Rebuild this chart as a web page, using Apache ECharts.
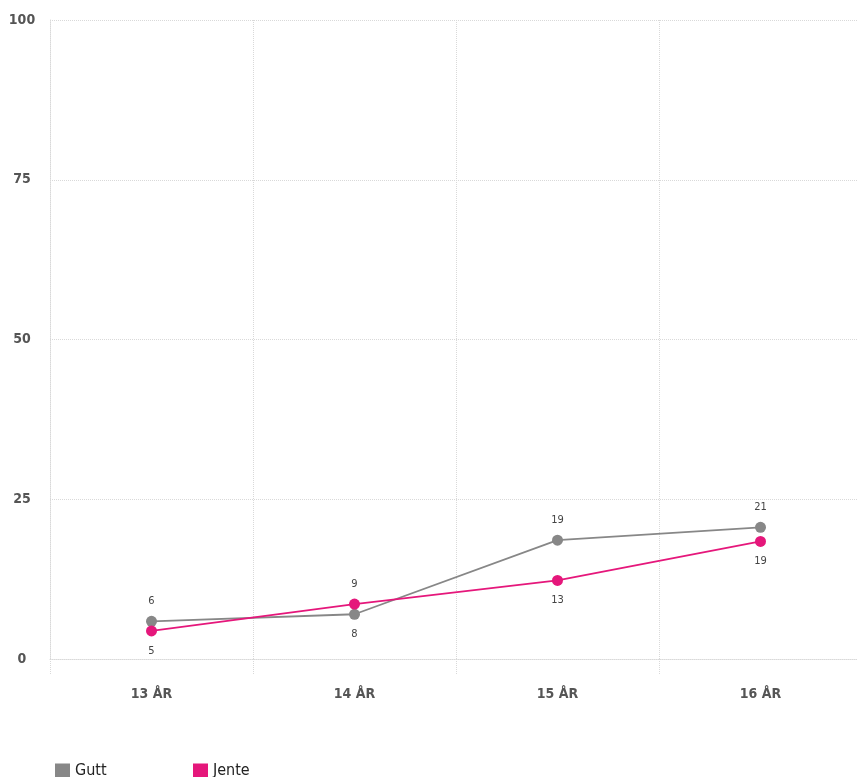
<!DOCTYPE html>
<html><head><meta charset="utf-8">
<script src="https://cdn.jsdelivr.net/npm/echarts@6/dist/echarts.min.js"></script>
<style>html,body{margin:0;padding:0;background:#fff}#c{width:857px;height:777px}</style>
</head><body><div id="c"></div>
<script>
const categories = ['13 ÅR', '14 ÅR', '15 ÅR', '16 ÅR'];
const gutt = [5.9, 7.0, 18.6, 20.6];
const guttLabels = ['6', '8', '19', '21'];
const guttLabelPos = ['top', 'bottom', 'top', 'top'];
const jente = [4.4, 8.6, 12.3, 18.4];
const jenteLabels = ['5', '9', '13', '19'];
const jenteLabelPos = ['bottom', 'top', 'bottom', 'bottom'];
const yTicks = [0, 25, 50, 75, 100];

const FONT = '"Liberation Sans Narrow", "DejaVu Sans Condensed", sans-serif';
const GRID = '#d9d9d9';

function mk(values, labels, pos) {
  return values.map((v, i) => ({
    value: v,
    label: { position: pos[i], formatter: labels[i] }
  }));
}

const legendBase = {
  top: 758, itemWidth: 15, itemHeight: 15, icon: 'rect',
  textStyle: { fontFamily: FONT, fontSize: 16, color: '#222', padding: [3, 0, 0, 0] }
};

const chart = echarts.init(document.getElementById('c'));
chart.setOption({
  animation: false,
  grid: { left: 50, right: -5, top: 20, bottom: 118, containLabel: false, outerBoundsMode: 'none' },
  legend: [
    Object.assign({ left: 50, data: ['Gutt'] }, legendBase),
    Object.assign({ left: 188, data: ['Jente'] }, legendBase)
  ],
  xAxis: {
    type: 'category', data: categories, boundaryGap: true,
    axisLine: { show: true, lineStyle: { color: GRID, type: 'dotted', width: 1 } },
    axisTick: { show: true, length: 16, lineStyle: { color: GRID, type: 'dotted' } },
    axisLabel: { margin: 28, fontFamily: FONT, fontSize: 14, fontWeight: 'bold', color: '#555' },
    splitLine: { show: true, lineStyle: { color: GRID, type: 'dotted', width: 1 } }
  },
  yAxis: {
    type: 'value', min: 0, max: 100, interval: 25,
    axisLine: { show: true, lineStyle: { color: GRID, type: 'dotted' } },
    axisTick: { show: false },
    axisLabel: {
      margin: 28, align: 'center', fontFamily: FONT, fontSize: 14, fontWeight: 'bold', color: '#555',
      formatter: v => yTicks.includes(v) ? String(v) : ''
    },
    splitLine: { show: true, lineStyle: { color: GRID, type: 'dotted', width: 1 } }
  },
  series: [
    {
      name: 'Gutt', type: 'line', data: mk(gutt, guttLabels, guttLabelPos),
      symbol: 'circle', symbolSize: 11,
      itemStyle: { color: '#878787' }, lineStyle: { color: '#878787', width: 1.8 },
      label: { show: true, distance: 9, fontFamily: FONT, fontSize: 11, color: '#444' }
    },
    {
      name: 'Jente', type: 'line', data: mk(jente, jenteLabels, jenteLabelPos),
      symbol: 'circle', symbolSize: 11,
      itemStyle: { color: '#e5177b' }, lineStyle: { color: '#e5177b', width: 1.8 },
      label: { show: true, distance: 9, fontFamily: FONT, fontSize: 11, color: '#444' }
    }
  ]
});
</script></body></html>
